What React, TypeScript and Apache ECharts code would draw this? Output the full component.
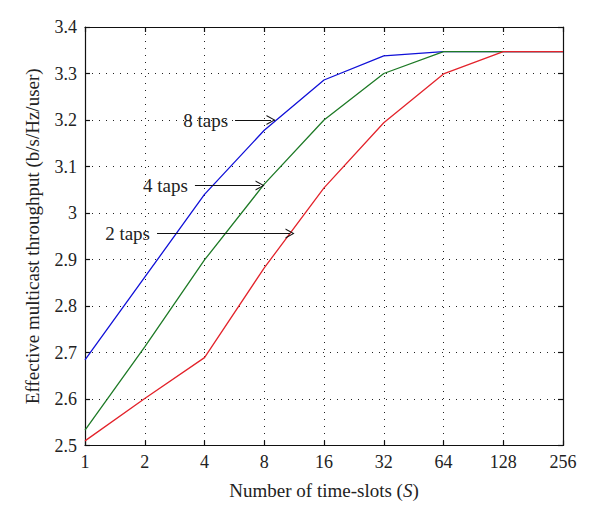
import React, { useEffect, useRef } from "react";
import * as echarts from "echarts";

const slots = [1, 2, 4, 8, 16, 32, 64, 128, 256];
const taps8 = [2.684, 2.862, 3.04, 3.178, 3.286, 3.338, 3.347, 3.347, 3.347];
const taps4 = [2.533, 2.712, 2.899, 3.062, 3.2, 3.3, 3.347, 3.347, 3.347];
const taps2 = [2.51, 2.601, 2.689, 2.882, 3.054, 3.194, 3.299, 3.347, 3.347];

// annotation arrows: [label, fromX, toX, y]
const arrows: [string, number, number, number][] = [
  ["8 taps", 5.7, 8.65, 3.2],
  ["4 taps", 3.58, 7.62, 3.059],
  ["2 taps", 2.306, 10.79, 2.956],
];

const FONT = "'Liberation Serif', 'Times New Roman', serif";
const ARROW = "path://M0,10 L5,0 L10,10 L8.8,10 L5,2.2 L1.2,10 Z";

export default function App() {
  const ref = useRef<HTMLDivElement>(null);
  useEffect(() => {
    if (!ref.current) return;
    const chart = echarts.init(ref.current, undefined, { renderer: "svg" });
    const pair = (vals: number[]) => slots.map((s, i) => [s, vals[i]]);
    const axisLine = { show: true, lineStyle: { color: "#111", width: 1.2 } };
    const tick = { show: true, inside: true, length: 5, lineStyle: { color: "#111", width: 1.2 } };
    const grid = { show: true, lineStyle: { color: "#222", width: 1, type: [1, 6] as any } };
    chart.setOption({
      animation: false,
      backgroundColor: "#fff",
      textStyle: { fontFamily: FONT },
      grid: { left: 85, right: 37, top: 27, bottom: 79.5, containLabel: false },
      xAxis: [
        {
          type: "log",
          logBase: 2,
          min: 1,
          max: 256,
          position: "bottom",
          axisLine,
          axisTick: tick,
          splitLine: grid,
          minorTick: { show: false },
          axisLabel: { color: "#222", fontSize: 18, fontFamily: FONT, margin: 7 },
          name: "Number of time-slots ({i|S})",
          nameLocation: "middle",
          nameGap: 35,
          nameTextStyle: {
            color: "#222",
            fontSize: 19,
            fontFamily: FONT,
            rich: { i: { fontStyle: "italic", fontSize: 19, fontFamily: FONT, color: "#222" } },
          },
        },
        {
          type: "log",
          logBase: 2,
          min: 1,
          max: 256,
          position: "top",
          axisLine,
          axisTick: tick,
          axisLabel: { show: false },
          splitLine: { show: false },
        },
      ],
      yAxis: [
        {
          type: "value",
          min: 2.5,
          max: 3.4,
          interval: 0.1,
          position: "left",
          axisLine,
          axisTick: tick,
          splitLine: grid,
          axisLabel: { color: "#222", fontSize: 18, fontFamily: FONT, margin: 8 },
          name: "Effective multicast throughput (b/s/Hz/user)",
          nameLocation: "middle",
          nameGap: 43,
          nameTextStyle: { color: "#222", fontSize: 19, fontFamily: FONT },
        },
        {
          type: "value",
          min: 2.5,
          max: 3.4,
          interval: 0.1,
          position: "right",
          axisLine,
          axisTick: tick,
          axisLabel: { show: false },
          splitLine: { show: false },
        },
      ],
      series: [
        {
          name: "8 taps",
          type: "line",
          data: pair(taps8),
          showSymbol: false,
          lineStyle: { color: "#1010d8", width: 1.3 },
          itemStyle: { color: "#1010d8" },
        },
        {
          name: "4 taps",
          type: "line",
          data: pair(taps4),
          showSymbol: false,
          lineStyle: { color: "#1e7a26", width: 1.3 },
          itemStyle: { color: "#1e7a26" },
        },
        {
          name: "2 taps",
          type: "line",
          data: pair(taps2),
          showSymbol: false,
          lineStyle: { color: "#e3232b", width: 1.3 },
          itemStyle: { color: "#e3232b" },
          markLine: {
            silent: true,
            symbol: ["none", ARROW],
            symbolSize: [10, 9],
            lineStyle: { color: "#111", width: 1.2, type: "solid" },
            label: {
              show: true,
              position: "start",
              distance: 7,
              color: "#222",
              fontSize: 19,
              fontFamily: FONT,
              formatter: (p: any) => p.name,
            },
            data: arrows.map(([label, x0, x1, y]) => [
              { name: label, coord: [x0, y] },
              { coord: [x1, y] },
            ]),
          },
        },
      ],
    });
    return () => chart.dispose();
  }, []);
  return (
    <div
      ref={ref}
      style={{ position: "absolute", left: 0, top: 0, width: 600, height: 525 }}
    />
  );
}
